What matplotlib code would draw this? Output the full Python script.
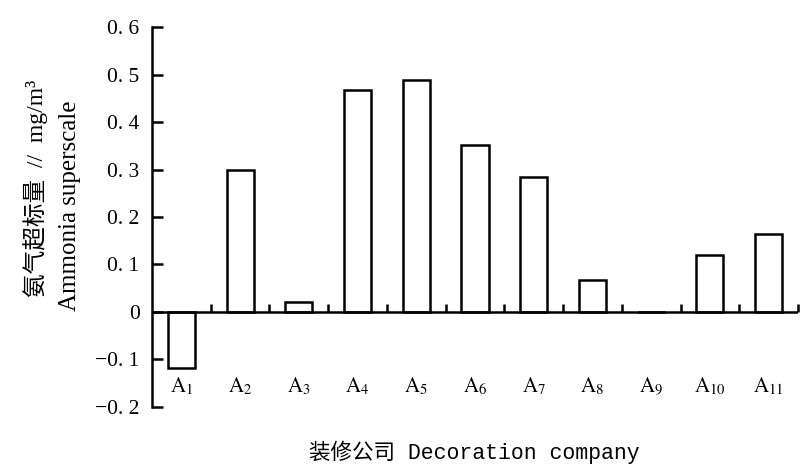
import matplotlib
matplotlib.use("Agg")
import matplotlib.pyplot as plt
import numpy as np

plt.rcParams["font.family"] = ["Liberation Serif", "Noto Sans CJK SC"]
plt.rcParams["mathtext.fontset"] = "stix"
plt.rcParams["axes.unicode_minus"] = True

# data
companies = ["1", "2", "3", "4", "5", "6", "7", "8", "9", "10", "11"]
excess = [-0.117, 0.30, 0.02, 0.467, 0.488, 0.352, 0.284, 0.067, 0.0, 0.12, 0.164]
y_ticks = [-0.2, -0.1, 0, 0.1, 0.2, 0.3, 0.4, 0.5, 0.6]
y_tick_labels = ["\u22120. 2", "\u22120. 1", "0", "0. 1", "0. 2", "0. 3", "0. 4", "0. 5", "0. 6"]

fig = plt.figure(figsize=(8.0, 4.74), dpi=100)
ax = fig.add_axes([0.19, 0.1414, 0.8075, 0.8016])

x = np.arange(len(companies))
ax.bar(x, excess, width=0.46, facecolor="white", edgecolor="black", linewidth=1.8, zorder=2)

# zero line with upward ticks at category boundaries
ax.axhline(0, color="black", linewidth=1.8, zorder=3)
bounds = np.arange(len(companies) + 1) - 0.5
ax.plot(bounds[1:], np.zeros(len(bounds) - 1), linestyle="none", marker=2,
        markersize=6, markeredgewidth=1.8, color="black", zorder=3, clip_on=False)

ax.set_xlim(-0.5, len(companies) - 0.5)
ax.set_ylim(-0.2, 0.6)
for side in ["top", "right", "bottom"]:
    ax.spines[side].set_visible(False)
ax.spines["left"].set_linewidth(1.8)
ax.set_xticks([])
ax.set_yticks(y_ticks)
ax.set_yticklabels(y_tick_labels)
ax.tick_params(axis="y", direction="in", length=8, width=1.8, pad=9, labelsize=15.5)

for xi, c in zip(x, companies):
    ax.text(xi, -0.157, r"$\mathrm{A}_{%s}$" % c, ha="center", va="center", fontsize=15)

fig.text(0.593, 0.045, "装修公司 Decoration company", ha="center", va="center",
         fontsize=15.5, family=["Liberation Mono", "Noto Sans CJK SC"])
fig.text(0.045, 0.603, "氨气超标量  //  mg/m\u00b3", rotation=90, ha="center", va="center",
         fontsize=17, family=["Liberation Serif", "Noto Sans CJK SC"])
fig.text(0.088, 0.565, "Ammonia superscale", rotation=90, ha="center", va="center",
         fontsize=18, family=["Liberation Serif", "Noto Sans CJK SC"])

fig.savefig("out.png", dpi=100)
